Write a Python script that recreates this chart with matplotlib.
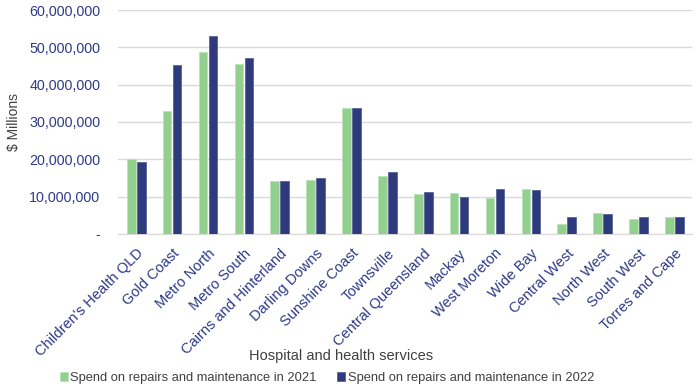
import matplotlib
matplotlib.use("Agg")
import matplotlib.pyplot as plt
import numpy as np
from matplotlib.ticker import FuncFormatter

categories = ["Children's Health QLD", "Gold Coast", "Metro North", "Metro South",
              "Cairns and Hinterland", "Darling Downs", "Sunshine Coast", "Townsville",
              "Central Queensland", "Mackay", "West Moreton", "Wide Bay", "Central West",
              "North West", "South West", "Torres and Cape"]
spend_2021 = [20.0, 32.9, 48.9, 45.6, 14.3, 14.5, 33.7, 15.6, 10.6, 10.9, 9.7, 12.0, 2.7, 5.5, 4.0, 4.5]
spend_2022 = [19.2, 45.2, 53.0, 47.3, 14.3, 15.1, 33.7, 16.5, 11.3, 10.0, 12.0, 11.7, 4.5, 5.3, 4.5, 4.5]
spend_2021 = [v * 1e6 for v in spend_2021]
spend_2022 = [v * 1e6 for v in spend_2022]

plt.rcParams['font.family'] = ['Liberation Sans', 'DejaVu Sans']

fig = plt.figure(figsize=(7.0, 3.91), dpi=100)
ax = fig.add_axes([0.169, 0.402, 0.82, 0.572])

x = np.arange(len(categories))
w = 0.24
green = '#93d08f'
navy = '#2f3a7c'
ax.bar(x - w / 2 - 0.02, spend_2021, w, color=green, edgecolor='#b8e3b5', linewidth=0.6,
       label='Spend on repairs and maintenance in 2021', zorder=3)
ax.bar(x + w / 2 + 0.02, spend_2022, w, color=navy, edgecolor='#5a639a', linewidth=0.6,
       label='Spend on repairs and maintenance in 2022', zorder=3)

ax.set_xlim(-0.5, len(categories) - 0.5)
ax.set_ylim(0, 60e6)
ax.set_yticks(np.arange(0, 60e6 + 1, 10e6))
ax.yaxis.set_major_formatter(FuncFormatter(lambda v, p: '-' if v == 0 else f'{int(v):,}'))
ax.grid(axis='y', color='#d9d9d9', linewidth=1.0, zorder=0)
for s in ['top', 'right', 'left']:
    ax.spines[s].set_visible(False)
ax.spines['bottom'].set_color('#d9d9d9')
ax.tick_params(axis='x', length=0, colors='#2e3a87', labelsize=10.5, pad=9)
ax.tick_params(axis='y', length=0, colors='#2e3a87', labelsize=10.3, pad=13)
ax.set_xticks(x)
ax.set_xticklabels(categories, rotation=45, ha='right', rotation_mode='anchor')
ax.set_ylabel('$ Millions', color='#404040', fontsize=10, labelpad=6)

fig.text(0.487, 1 - 356 / 391, 'Hospital and health services', color='#404040',
         fontsize=10.5, ha='center', va='center')

leg = fig.legend(loc='center', bbox_to_anchor=(0.467, 1 - 378 / 391), ncol=2, frameon=False,
                 fontsize=9.3, handlelength=0.6, handleheight=0.6, handletextpad=0.2,
                 columnspacing=1.6)
for t in leg.get_texts():
    t.set_color('#404040')

fig.savefig('out.png', dpi=100)
